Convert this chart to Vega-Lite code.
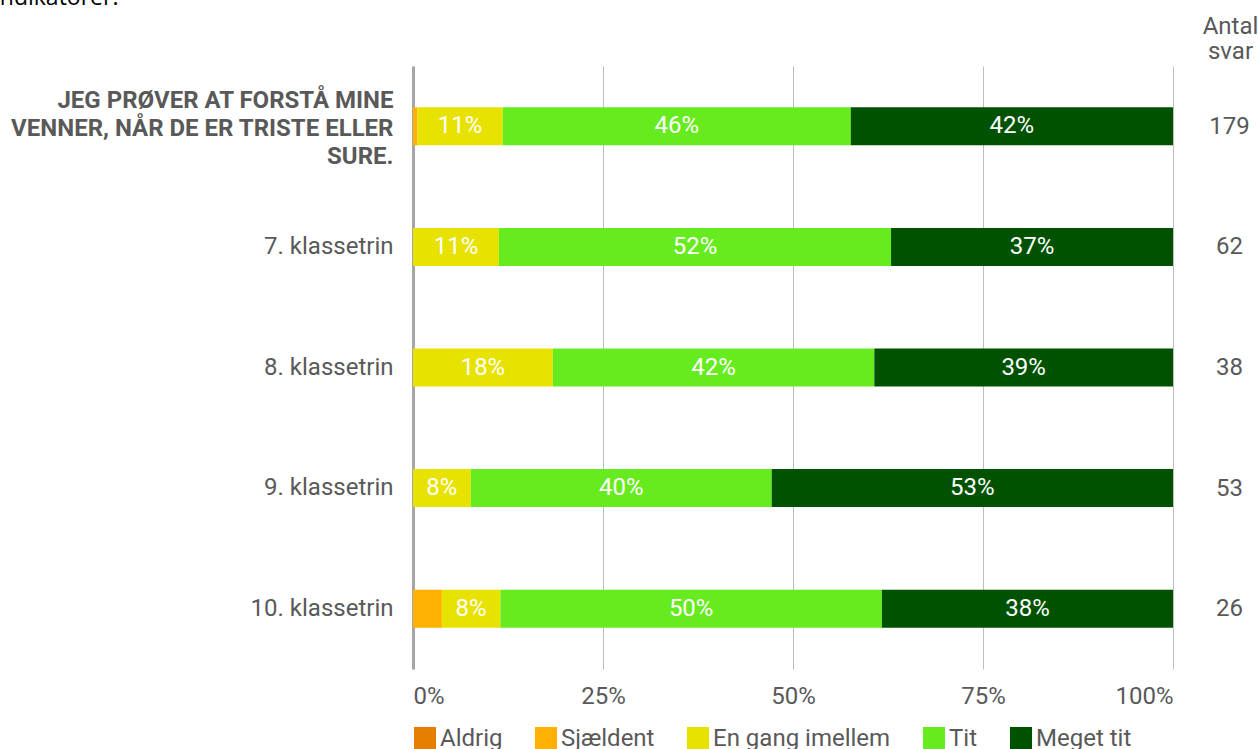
{
  "$schema": "https://vega.github.io/schema/vega-lite/v6.json",
  "autosize": {"type": "none"},
  "width": 760,
  "height": 603,
  "padding": {"left": 413, "top": 66, "right": 85, "bottom": 80},
  "background": "white",
  "title": {"text": "indikatorer.", "anchor": "start", "frame": "group", "dx": -419, "offset": 4, "font": "Open Sans", "fontSize": 23, "fontWeight": "normal", "color": "#000000"},
  "config": {
    "view": {"stroke": null},
    "font": "Roboto"
  },
  "datasets": {
    "rows": [
      {"group": "JEG PRØVER AT FORSTÅ MINE VENNER, NÅR DE ER TRISTE ELLER SURE.", "cat": "Sjældent", "value": 0.006},
      {"group": "JEG PRØVER AT FORSTÅ MINE VENNER, NÅR DE ER TRISTE ELLER SURE.", "cat": "En gang imellem", "value": 0.112},
      {"group": "JEG PRØVER AT FORSTÅ MINE VENNER, NÅR DE ER TRISTE ELLER SURE.", "cat": "Tit", "value": 0.458},
      {"group": "JEG PRØVER AT FORSTÅ MINE VENNER, NÅR DE ER TRISTE ELLER SURE.", "cat": "Meget tit", "value": 0.424},
      {"group": "7. klassetrin", "cat": "En gang imellem", "value": 0.113},
      {"group": "7. klassetrin", "cat": "Tit", "value": 0.516},
      {"group": "7. klassetrin", "cat": "Meget tit", "value": 0.371},
      {"group": "8. klassetrin", "cat": "En gang imellem", "value": 0.184},
      {"group": "8. klassetrin", "cat": "Tit", "value": 0.423},
      {"group": "8. klassetrin", "cat": "Meget tit", "value": 0.393},
      {"group": "9. klassetrin", "cat": "En gang imellem", "value": 0.076},
      {"group": "9. klassetrin", "cat": "Tit", "value": 0.396},
      {"group": "9. klassetrin", "cat": "Meget tit", "value": 0.528},
      {"group": "10. klassetrin", "cat": "Sjældent", "value": 0.038},
      {"group": "10. klassetrin", "cat": "En gang imellem", "value": 0.077},
      {"group": "10. klassetrin", "cat": "Tit", "value": 0.502},
      {"group": "10. klassetrin", "cat": "Meget tit", "value": 0.383}
    ],
    "counts": [
      {"group": "JEG PRØVER AT FORSTÅ MINE VENNER, NÅR DE ER TRISTE ELLER SURE.", "n": "179"},
      {"group": "7. klassetrin", "n": "62"},
      {"group": "8. klassetrin", "n": "38"},
      {"group": "9. klassetrin", "n": "53"},
      {"group": "10. klassetrin", "n": "26"}
    ]
  },
  "layer": [
    {
      "data": {"name": "rows"},
      "transform": [
        {"calculate": "indexof(['Aldrig','Sjældent','En gang imellem','Tit','Meget tit'], datum.cat)", "as": "ci"},
        {"stack": "value", "groupby": ["group"], "sort": [{"field": "ci"}], "as": ["x0", "x1"]},
        {"calculate": "(datum.x0 + datum.x1) / 2", "as": "mid"}
      ],
      "encoding": {
        "y": {
          "field": "group", "type": "nominal",
          "sort": ["JEG PRØVER AT FORSTÅ MINE VENNER, NÅR DE ER TRISTE ELLER SURE.", "7. klassetrin", "8. klassetrin", "9. klassetrin", "10. klassetrin"],
          "scale": {"paddingInner": 0.685, "paddingOuter": 0.3425},
          "axis": {
            "orient": "left", "title": null, "ticks": false, "grid": false,
            "domain": true, "domainColor": "#a6a6a6", "domainWidth": 3,
            "labelFontSize": 24, "labelColor": "#595959", "labelPadding": 20, "labelLimit": 600,
            "labelLineHeight": 28,
            "labelExpr": "indexof(datum.value, 'JEG') == 0 ? ['JEG PRØVER AT FORSTÅ MINE', 'VENNER, NÅR DE ER TRISTE ELLER', 'SURE.'] : datum.value",
            "labelFontWeight": {"condition": {"test": "indexof(datum.value, 'JEG') == 0", "value": "bold"}, "value": "normal"},
            "labelOffset": {"condition": {"test": "indexof(datum.value, 'JEG') == 0", "value": -25}, "value": 0}
          }
        }
      },
      "layer": [
        {
          "mark": {"type": "bar"},
          "encoding": {
            "x": {
              "field": "x0", "type": "quantitative",
              "scale": {"domain": [0, 1], "nice": false},
              "axis": {
                "values": [0, 0.25, 0.5, 0.75, 1], "format": ".0%", "title": null,
                "domain": false, "ticks": false, "grid": true, "gridColor": "#bdbdbd", "gridWidth": 1,
                "labelFlush": true, "labelFontSize": 24, "labelColor": "#595959", "labelPadding": 15
              }
            },
            "x2": {"field": "x1"},
            "color": {
              "field": "cat", "type": "nominal",
              "scale": {
                "domain": ["Aldrig", "Sjældent", "En gang imellem", "Tit", "Meget tit"],
                "range": ["#E67E00", "#FFB000", "#E8E200", "#66EB1E", "#005200"]
              },
              "legend": {
                "orient": "bottom", "direction": "horizontal", "title": null,
                "symbolType": "M-0.92,-1H0.92V1H-0.92Z", "symbolSize": 576, "symbolStrokeWidth": 0,
                "labelFontSize": 24, "labelColor": "#595959", "labelOffset": 3, "labelLimit": 400,
                "columnPadding": 31, "offset": 19
              }
            }
          }
        },
        {
          "transform": [{"filter": "datum.value >= 0.05"}],
          "mark": {"type": "text", "color": "white", "fontSize": 24, "baseline": "middle", "align": "center"},
          "encoding": {
            "x": {"field": "mid", "type": "quantitative"},
            "text": {"field": "value", "type": "quantitative", "format": ".0%"}
          }
        }
      ]
    },
    {
      "data": {"name": "counts"},
      "mark": {"type": "point", "opacity": 0},
      "encoding": {
        "y": {
          "field": "n", "type": "nominal", "sort": null,
          "scale": {"paddingInner": 0.685, "paddingOuter": 0.3425},
          "axis": {
            "orient": "right", "ticks": false, "tickSize": 0, "grid": false, "domain": false,
            "labelFontSize": 24, "labelColor": "#595959", "labelAlign": "center", "labelPadding": 56,
            "title": ["Antal", "svar"], "titleAngle": 0, "titleAlign": "center", "titleBaseline": "bottom",
            "titleX": 57, "titleY": -28, "titleFontSize": 24, "titleFontWeight": "normal", "titleColor": "#595959",
            "titleLineHeight": 25
          }
        }
      }
    }
  ],
  "resolve": {"scale": {"y": "independent"}, "axis": {"y": "independent"}}
}
